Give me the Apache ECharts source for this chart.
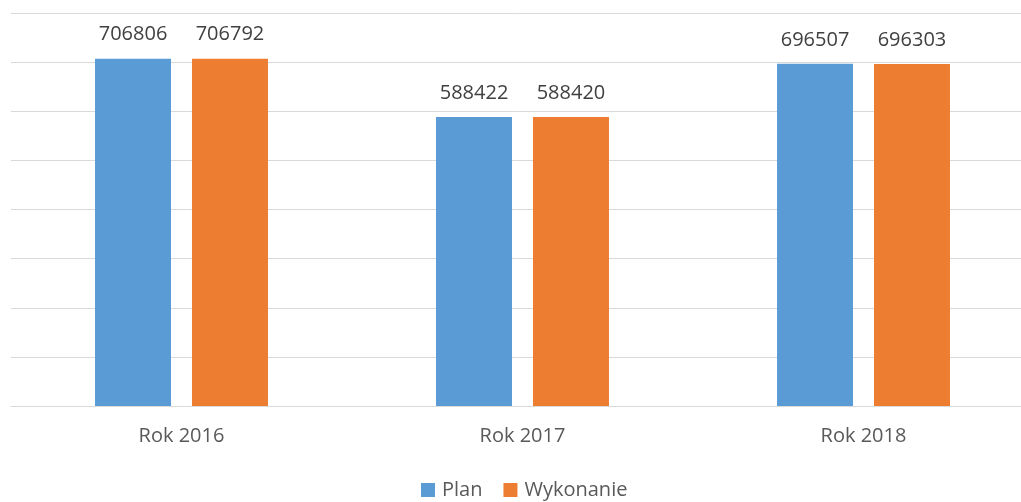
<!DOCTYPE html>
<html><head><meta charset="utf-8">
<script src="https://cdn.jsdelivr.net/npm/echarts@6/dist/echarts.min.js"></script>
<style>html,body{margin:0;padding:0;background:#fff}#c{width:1021px;height:502px}</style>
</head><body><div id="c"></div>
<script>
const categories = ['Rok 2016', 'Rok 2017', 'Rok 2018'];
const planValues = [706806, 588422, 696507];
const wykonanieValues = [706792, 588420, 696303];
const seriesNames = ['Plan', 'Wykonanie'];

const chart = echarts.init(document.getElementById('c'), null, {renderer: 'canvas'});
const font = '"Open Sans", "Noto Sans", sans-serif';
const lbl = {show: true, position: 'top', distance: 14, color: '#404040', fontSize: 20, fontFamily: font};
chart.setOption({
  animation: false,
  grid: {left: 11, right: -13, top: 13, bottom: 96, containLabel: false, outerBoundsMode: 'none'},
  legend: {
    top: 480, left: 421, itemWidth: 14, itemHeight: 14, itemGap: 21, padding: 0,
    icon: 'rect',
    textStyle: {color: '#595959', fontSize: 20, fontFamily: font, padding: [0, 0, 0, 2]},
    data: seriesNames
  },
  xAxis: {
    type: 'category', data: categories,
    axisLine: {show: true, lineStyle: {color: '#d9d9d9', width: 1}},
    axisTick: {show: false},
    axisLabel: {color: '#595959', fontSize: 20, fontFamily: font, margin: 20}
  },
  yAxis: {
    type: 'value', min: 0, max: 800000, interval: 100000,
    axisLabel: {show: false}, axisLine: {show: false}, axisTick: {show: false},
    splitLine: {lineStyle: {color: '#d9d9d9', width: 1}}
  },
  series: [
    {name: seriesNames[0], type: 'bar', data: planValues, barWidth: 76, barGap: '27.6%',
     itemStyle: {color: '#5b9bd5'}, label: lbl},
    {name: seriesNames[1], type: 'bar', data: wykonanieValues, barWidth: 76,
     itemStyle: {color: '#ed7d31'}, label: lbl}
  ]
});
</script></body></html>
